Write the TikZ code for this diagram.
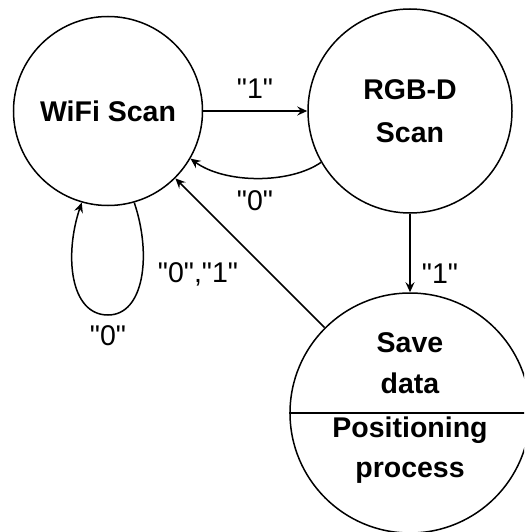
\documentclass[tikz,border=0pt]{standalone}
\usepackage{fontspec}
\setmainfont{Liberation Sans}[Ligatures=TeXOff]
\usetikzlibrary{arrows.meta}
\begin{document}
\begin{tikzpicture}[x=1pt,y=-1pt,
  state/.style={circle, draw, line width=1.5pt, inner sep=0pt, font=\fontsize{28.5}{43}\selectfont\bfseries, align=center},
  lbl/.style={font=\fontsize{28.5}{34}\selectfont, anchor=base, inner sep=0pt},
  txt/.style={font=\fontsize{28.5}{34}\selectfont\bfseries, anchor=base, inner sep=0pt},
  edge/.style={line width=1.5pt, -{Stealth[length=10pt,width=9pt,inset=3.5pt]}},
]
\useasboundingbox (0,0) rectangle (524,532);
\clip (0,0) rectangle (524,532);
\node[state, minimum size=189pt] (wifi) at (108,111) {WiFi Scan};
\node[state, minimum size=204pt] (rgb) at (410,111) {RGB-D\\Scan};
\node[state, minimum size=240pt] (save) at (410,413) {};
\draw[line width=1.5pt] (save.west) -- (save.east);
\node[txt] (s1) at (410,352) {Save};
\node[txt] (s2) at (410,393) {data};
\node[txt] (s3) at (410,437) {Positioning};
\node[txt] (s4) at (410,477) {process};
\coordinate (loopbot) at (108,315);
\draw[edge] (wifi) -- (rgb);
\draw[edge] (rgb.210) .. controls (290,184) and (225,184) .. (wifi.-30);
\draw[edge] (rgb) -- (save);
\draw[edge] (save) -- (wifi);
\draw[edge] (wifi.-74) .. controls (152,255) and (144,315) .. (loopbot) .. controls (70,315) and (64,255) .. (wifi.-106);
\node[lbl] (l1) at (255,99) {"1"};
\node[lbl] (l0) at (255,210) {"0"};
\node[lbl] (l01) at (198,282) {"0","1"};
\node[lbl] (l0b) at (108,345) {"0"};
\node[lbl] (l1b) at (440,283) {"1"};
\end{tikzpicture}
\end{document}
